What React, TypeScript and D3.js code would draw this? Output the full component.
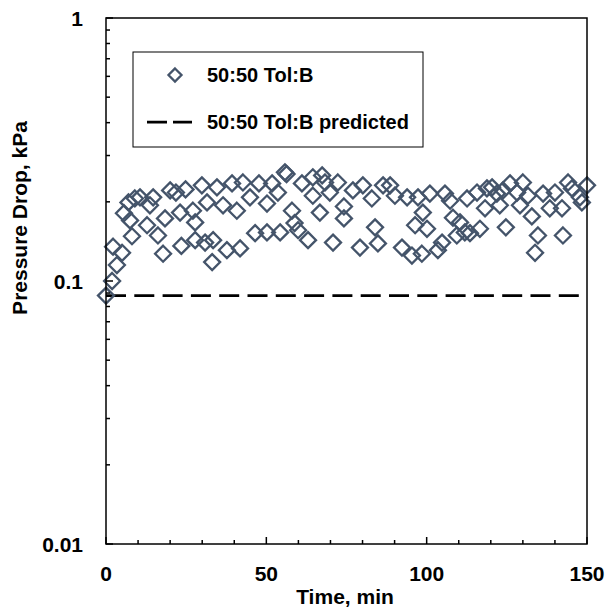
import React from "react";
import * as d3 from "d3";

const times = [
  0, 1.9, 2.2, 3.4, 5.0, 5.6, 7.5, 8.1, 7.0, 9.0, 10.6, 12.8, 13.7, 14.7, 16.2, 17.8, 18.4, 20.0, 21.8, 23.1,
  23.5, 24.8, 27.1, 27.8, 27.8, 29.9, 31.5, 30.9, 33.4, 33.1, 34.6, 36.5, 37.7, 39.3, 40.8, 41.8, 42.7, 44.9,
  46.5, 47.7, 50.2, 51.8, 53.6, 55.8, 56.3, 50.2, 54.3, 58.0, 58.8, 59.9, 63.0, 61.1, 64.5, 64.5, 66.7, 68.3,
  67.4, 69.8, 70.8, 72.3, 74.2, 74.2, 77.0, 80.1, 79.2, 82.9, 83.9, 84.8, 86.4, 88.6, 90.1, 92.3, 93.9, 95.4,
  97.3, 96.4, 98.8, 101.0, 100.1, 98.5, 103.5, 104.8, 105.7, 107.3, 108.2, 110.4, 109.4, 111.9, 113.5, 116.6,
  112.6, 115.7, 118.2, 118.8, 120.4, 121.9, 124.7, 123.8, 122.8, 126.0, 128.2, 129.1, 130.0, 132.8, 131.6,
  134.7, 133.8, 136.3, 138.4, 140.0, 142.2, 142.5, 144.1, 145.3, 147.8, 148.4, 150.0,
];
const pressures = [
  0.088, 0.1, 0.135, 0.115, 0.128, 0.181, 0.17, 0.148, 0.199, 0.206, 0.208, 0.163, 0.194, 0.208, 0.149, 0.127,
  0.173, 0.221, 0.217, 0.182, 0.136, 0.223, 0.185, 0.167, 0.143, 0.231, 0.199, 0.14, 0.143, 0.118, 0.227, 0.194,
  0.131, 0.235, 0.185, 0.133, 0.237, 0.208, 0.152, 0.235, 0.197, 0.235, 0.217, 0.259, 0.255, 0.153, 0.153,
  0.185, 0.166, 0.156, 0.143, 0.235, 0.248, 0.211, 0.182, 0.237, 0.252, 0.217, 0.14, 0.237, 0.192, 0.173,
  0.221, 0.231, 0.134, 0.206, 0.16, 0.139, 0.231, 0.231, 0.211, 0.134, 0.208, 0.125, 0.208, 0.163, 0.182,
  0.215, 0.158, 0.127, 0.131, 0.14, 0.215, 0.202, 0.174, 0.167, 0.149, 0.153, 0.152, 0.158, 0.206, 0.217,
  0.189, 0.225, 0.227, 0.215, 0.16, 0.221, 0.194, 0.235, 0.217, 0.194, 0.237, 0.176, 0.211, 0.149, 0.128,
  0.215, 0.189, 0.217, 0.189, 0.149, 0.237, 0.225, 0.208, 0.199, 0.231,
];
const predictedValue = 0.088;
const xMajorTicks = [0, 50, 100, 150];
const xMinorTicks = [10, 20, 30, 40, 60, 70, 80, 90, 110, 120, 130, 140];
const yMajorTicks = [0.01, 0.1, 1];
const yTickLabels = ["0.01", "0.1", "1"];
const legendLabels = ["50:50 Tol:B", "50:50 Tol:B predicted"];
const xTitle = "Time, min";
const yTitle = "Pressure Drop, kPa";

const FONT = "'Liberation Sans', Arial, sans-serif";
const MARK = "#44546A";

const diamondPath = (h: number) => `M0,${-h}L${h},0L0,${h}L${-h},0Z`;

export default function App() {
  const x = d3.scaleLinear().domain([0, 150]).range([106, 587]);
  const y = d3.scaleLog().domain([0.01, 1]).range([544, 18]);
  const yMinor: number[] = [];
  [0.01, 0.1].forEach((d) => {
    for (let k = 2; k <= 9; k++) yMinor.push(d * k);
  });
  const fs = 21;
  const legFs = 20;
  return (
    <svg width={608} height={609} style={{ position: "absolute", left: 0, top: 0 }} fontFamily={FONT}>
      <rect x={0} y={0} width={608} height={609} fill="#fff" />
      <line x1={x(0)} x2={x(150)} y1={y(predictedValue)} y2={y(predictedValue)} stroke="#000" strokeWidth={2.75} strokeDasharray="20,8.3" />
      {times.map((t, i) => (
        <path key={i} d={diamondPath(8)} transform={`translate(${x(t)},${y(pressures[i])})`} fill="none" stroke={MARK} strokeWidth={2.3} />
      ))}
      <rect x={x(0)} y={y(1)} width={x(150) - x(0)} height={y(0.01) - y(1)} fill="none" stroke="#000" strokeWidth={1.5} />
      {xMajorTicks.map((t) => (
        <line key={"xM" + t} x1={x(t)} x2={x(t)} y1={y(0.01)} y2={y(0.01) - 7} stroke="#000" strokeWidth={1.5} />
      ))}
      {xMinorTicks.map((t) => (
        <line key={"xm" + t} x1={x(t)} x2={x(t)} y1={y(0.01)} y2={y(0.01) - 4} stroke="#000" strokeWidth={1.5} />
      ))}
      {yMajorTicks.map((v) => (
        <line key={"yM" + v} x1={x(0)} x2={x(0) + 7} y1={y(v)} y2={y(v)} stroke="#000" strokeWidth={1.5} />
      ))}
      {yMinor.map((v) => (
        <line key={"ym" + v} x1={x(0)} x2={x(0) + 4} y1={y(v)} y2={y(v)} stroke="#000" strokeWidth={1.5} />
      ))}
      {xMajorTicks.map((t) => (
        <text key={"xl" + t} x={x(t)} y={581} textAnchor="middle" fontSize={fs} fontWeight="bold">
          {t}
        </text>
      ))}
      {yMajorTicks.map((v, i) => (
        <text key={"yl" + v} x={83} y={y(v) + 7.5} textAnchor="end" fontSize={fs} fontWeight="bold">
          {yTickLabels[i]}
        </text>
      ))}
      <text x={345} y={604} textAnchor="middle" fontSize={fs} fontWeight="bold">
        {xTitle}
      </text>
      <text transform={`translate(27,218) rotate(-90)`} textAnchor="middle" fontSize={fs} fontWeight="bold">
        {yTitle}
      </text>
      <rect x={133} y={52} width={290} height={95} fill="#fff" stroke="#000" strokeWidth={1} />
      <path d={diamondPath(6.5)} transform="translate(175,75)" fill="none" stroke={MARK} strokeWidth={2.3} />
      <text x={207} y={82} fontSize={legFs} fontWeight="bold">
        {legendLabels[0]}
      </text>
      <line x1={147} x2={192} y1={122} y2={122} stroke="#000" strokeWidth={2.75} strokeDasharray="20,6" />
      <text x={207} y={129} fontSize={legFs} fontWeight="bold">
        {legendLabels[1]}
      </text>
    </svg>
  );
}
